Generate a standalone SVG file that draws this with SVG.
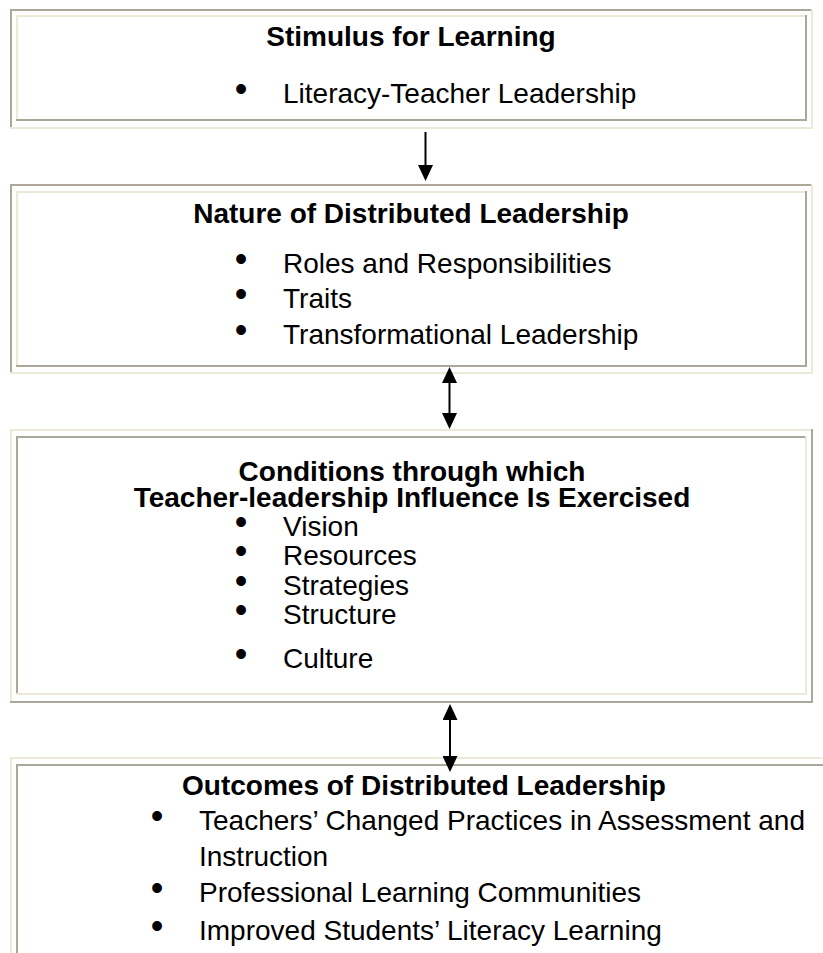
<svg xmlns="http://www.w3.org/2000/svg" width="823" height="953" viewBox="0 0 823 953">
<style>
.g{fill:#ACA899}
.l{fill:#ECE9D8}
.t{font-family:"Liberation Sans",Arial,sans-serif;font-size:28px;font-weight:bold;fill:#000;text-anchor:middle}
.i{font-family:"Liberation Sans",Arial,sans-serif;font-size:28px;fill:#000}
.b{font-family:"Liberation Sans",Arial,sans-serif;font-size:36px;fill:#000;text-anchor:middle}
.c{stroke:#000;stroke-width:2;fill:none}
</style>
<defs>
<marker id="ah" viewBox="0 0 16 15" refX="12" refY="7.5" markerWidth="16" markerHeight="15" markerUnits="userSpaceOnUse" orient="auto-start-reverse">
<path d="M0,0 L16,7.5 L0,15 z" fill="#000"/>
</marker>
</defs>
<rect width="823" height="953" fill="#fff"/>

<g id="stimulus">
<rect class="g" x="10" y="9" width="802" height="2"/>
<rect class="g" x="10" y="9" width="2" height="120"/>
<rect class="l" x="10" y="127" width="803" height="2"/>
<rect class="l" x="811" y="9" width="2" height="120"/>
<rect class="l" x="16" y="15" width="790" height="2"/>
<rect class="l" x="16" y="15" width="2" height="106"/>
<rect class="g" x="16" y="119" width="791" height="2"/>
<rect class="g" x="805" y="15" width="2" height="106"/>
<text class="t" x="411" y="46">Stimulus for Learning</text>
<text class="b" x="241" y="101">•</text>
<text class="i" x="283" y="103">Literacy-Teacher Leadership</text>
</g>

<g id="nature">
<rect class="g" x="10" y="184" width="802" height="2"/>
<rect class="g" x="10" y="184" width="2" height="190"/>
<rect class="l" x="10" y="372" width="803" height="2"/>
<rect class="l" x="811" y="184" width="2" height="190"/>
<rect class="l" x="16" y="191" width="790" height="2"/>
<rect class="l" x="16" y="191" width="2" height="176"/>
<rect class="g" x="16" y="365" width="791" height="2"/>
<rect class="g" x="805" y="191" width="2" height="176"/>
<text class="t" x="411" y="223">Nature of Distributed Leadership</text>
<text class="b" x="241" y="271">•</text>
<text class="i" x="283" y="273">Roles and Responsibilities</text>
<text class="b" x="241" y="306">•</text>
<text class="i" x="283" y="308">Traits</text>
<text class="b" x="241" y="342">•</text>
<text class="i" x="283" y="344">Transformational Leadership</text>
</g>

<g id="conditions">
<rect class="l" x="10" y="429" width="802" height="2"/>
<rect class="l" x="10" y="429" width="2" height="274"/>
<rect class="g" x="10" y="701" width="803" height="2"/>
<rect class="g" x="811" y="429" width="2" height="274"/>
<rect class="g" x="16" y="436" width="790" height="2"/>
<rect class="g" x="16" y="436" width="2" height="259"/>
<rect class="l" x="16" y="693" width="791" height="2"/>
<rect class="l" x="805" y="436" width="2" height="259"/>
<text class="t" x="412" y="481">Conditions through which</text>
<text class="t" x="412" y="507">Teacher-leadership Influence Is Exercised</text>
<text class="b" x="241" y="534">•</text>
<text class="i" x="283" y="536">Vision</text>
<text class="b" x="241" y="563">•</text>
<text class="i" x="283" y="565">Resources</text>
<text class="b" x="241" y="593">•</text>
<text class="i" x="283" y="595">Strategies</text>
<text class="b" x="241" y="622">•</text>
<text class="i" x="283" y="624">Structure</text>
<text class="b" x="241" y="666">•</text>
<text class="i" x="283" y="668">Culture</text>
</g>

<g id="outcomes">
<rect class="l" x="10" y="757" width="813" height="2"/>
<rect class="l" x="10" y="757" width="2" height="196"/>
<rect class="g" x="16" y="764" width="807" height="2"/>
<rect class="g" x="16" y="764" width="2" height="189"/>
<text class="t" x="424" y="795">Outcomes of Distributed Leadership</text>
<text class="b" x="157" y="828">•</text>
<text class="i" x="199" y="830">Teachers’ Changed Practices in Assessment and</text>
<text class="i" x="199" y="866">Instruction</text>
<text class="b" x="157" y="900">•</text>
<text class="i" x="199" y="902">Professional Learning Communities</text>
<text class="b" x="157" y="938">•</text>
<text class="i" x="199" y="940">Improved Students’ Literacy Learning</text>
</g>

<g id="connectors">
<line class="c" x1="425.5" y1="132" x2="425.5" y2="177" marker-end="url(#ah)"/>
<line class="c" x1="449.5" y1="371" x2="449.5" y2="425" marker-start="url(#ah)" marker-end="url(#ah)"/>
<line class="c" x1="450" y1="708" x2="450" y2="768" marker-start="url(#ah)" marker-end="url(#ah)"/>
</g>
</svg>
